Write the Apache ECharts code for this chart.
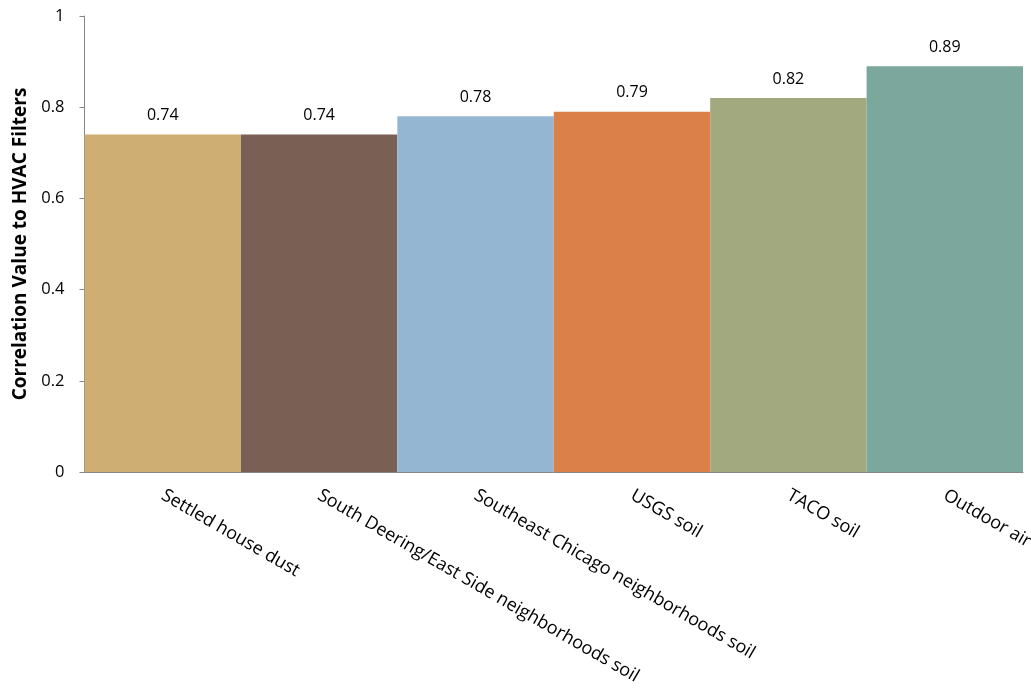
<!DOCTYPE html>
<html><head><meta charset="utf-8">
<script src="https://cdn.jsdelivr.net/npm/echarts@6/dist/echarts.min.js"></script>
<style>html,body{margin:0;padding:0;background:#fff}#c{width:1031px;height:689px}</style>
</head><body><div id="c"></div>
<script>
const categories = ["Settled house dust","South Deering/East Side neighborhoods soil","Southeast Chicago neighborhoods soil","USGS soil","TACO soil","Outdoor air"];
const values = [0.74, 0.74, 0.78, 0.79, 0.82, 0.89];
const barColors = ["#CEAE72","#7A5F55","#95B6D3","#DC804A","#A3A97F","#7BA79D"];
const yTicks = [0, 0.2, 0.4, 0.6, 0.8, 1];
const yName = "Correlation Value to HVAC Filters";
const font = "'Open Sans', sans-serif";
const chart = echarts.init(document.getElementById('c'), null, {renderer:'canvas'});
chart.setOption({
  animation:false,
  grid:{left:84.5, right:8, top:16, bottom:217, containLabel:false, outerBoundsMode:'none'},
  xAxis:{type:'category', data:categories,
    axisLine:{lineStyle:{color:'#868686', width:1}},
    axisTick:{show:false},
    axisLabel:{rotate:-30, interval:0, color:'#000', fontFamily:font, fontSize:18, margin:22, align:'left'},
  },
  yAxis:{type:'value', min:0, max:1, interval:0.2,
    name:yName, nameLocation:'middle', nameGap:53, nameRotate:90,
    nameTextStyle:{fontFamily:font, fontSize:19, fontWeight:'bold', color:'#000'},
    axisLine:{show:true, lineStyle:{color:'#868686'}},
    axisTick:{show:true, length:5, inside:false, lineStyle:{color:'#868686'}},
    splitLine:{show:false},
    axisLabel:{color:'#000', fontFamily:font, fontSize:16.5, margin:20,
      formatter:function(v){ const t = yTicks.find(x=>Math.abs(x-v)<1e-9); return t===undefined? '' : String(Math.round(t*10)/10);} }
  },
  series:[{type:'bar', data:values.map((v,i)=>({value:v, itemStyle:{color:barColors[i]}})),
    barCategoryGap:'0%',
    label:{show:true, position:'top', distance:11, color:'#000', fontFamily:font, fontSize:16, formatter:p=>p.value.toFixed(2)}
  }]
});
</script></body></html>
